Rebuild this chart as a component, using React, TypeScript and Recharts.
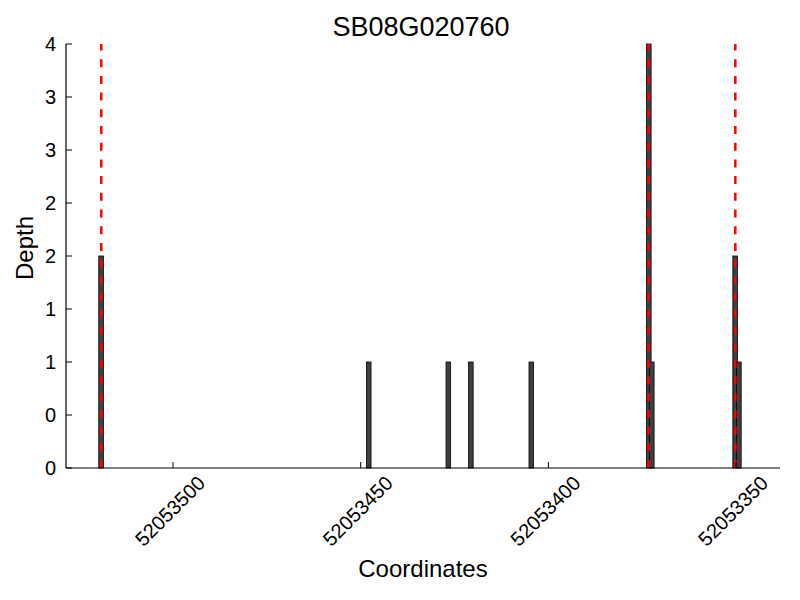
import {
  Bar,
  ComposedChart,
  Customized,
  Label,
  ReferenceLine,
  XAxis,
  YAxis,
} from "recharts";

// read-off positions (bar centres) and depths
const positions = [
  52053519.1, 52053447.8, 52053426.6, 52053420.6, 52053404.5, 52053373.2, 52053372.4, 52053350.2,
  52053349.2,
];
const depths = [2, 1, 1, 1, 1, 4, 1, 2, 1];
const boundaries = [52053519.1, 52053373.3, 52053350.2];

const xTicks = [52053500, 52053450, 52053400, 52053350];
const yTicks = [0, 0.5, 1, 1.5, 2, 2.5, 3, 3.5, 4];
const yTickLabels = ["0", "0", "1", "1", "2", "2", "3", "3", "4"];

const title = "SB08G020760";
const xTitle = "Coordinates";
const yTitle = "Depth";

const FONT = '"Liberation Sans", Arial, sans-serif';
const BAR_W = 4.6;

const data = positions.map((pos, i) => ({ pos, depth: depths[i] }));

function XTick(props: any) {
  const { x, y, payload } = props;
  const cx = x - 3;
  const cy = y + 43;
  return (
    <g>
      <line x1={x} y1={y} x2={x} y2={y - 6} stroke="#000" strokeWidth={1} />
      <text
        x={cx}
        y={cy}
        textAnchor="middle"
        dominantBaseline="central"
        fontSize={20}
        fontFamily={FONT}
        fill="#000"
        transform={`rotate(-45, ${cx}, ${cy})`}
      >
        {payload.value}
      </text>
    </g>
  );
}

function YTick(props: any) {
  const { x, y, payload } = props;
  const idx = yTicks.indexOf(payload.value);
  return (
    <g>
      <line x1={x} y1={y} x2={x + 6} y2={y} stroke="#000" strokeWidth={1} />
      <text
        x={x - 10}
        y={y}
        textAnchor="end"
        dominantBaseline="central"
        fontSize={20}
        fontFamily={FONT}
        fill="#000"
      >
        {idx >= 0 ? yTickLabels[idx] : payload.value}
      </text>
    </g>
  );
}

// fixed-width bar, centred on the position given by the axis scale
function DepthBar(props: any) {
  const { x, y, width, height } = props;
  if (!height) return null;
  const cx = x + width / 2;
  return (
    <rect
      x={cx - BAR_W / 2}
      y={y}
      width={BAR_W}
      height={height}
      fill="#404040"
      stroke="#000"
      strokeWidth={0.8}
    />
  );
}

export default function App() {
  return (
    <div style={{ position: "fixed", left: 0, top: 0, width: 800, height: 600, background: "#fff" }}>
      <ComposedChart
        width={800}
        height={600}
        data={data}
        margin={{ top: 44, right: 20, bottom: 0, left: 0 }}
      >
        <Customized
          component={() => (
            <text
              x={421}
              y={36}
              textAnchor="middle"
              fontSize={27}
              fontFamily={FONT}
              fill="#000"
            >
              {title}
            </text>
          )}
        />
        <XAxis
          dataKey="pos"
          type="number"
          reversed
          domain={[52053338.3, 52053528.5]}
          allowDataOverflow
          ticks={xTicks}
          interval={0}
          height={132}
          tickSize={0}
          tickMargin={0}
          tickLine={false}
          tick={<XTick />}
          axisLine={{ stroke: "#000", strokeWidth: 1.2 }}
        >
          <Label
            value={xTitle}
            position="insideBottom"
            offset={23}
            style={{ fontSize: 24, fontFamily: FONT, fill: "#000" }}
          />
        </XAxis>
        <YAxis
          type="number"
          domain={[0, 4]}
          ticks={yTicks}
          interval={0}
          width={66}
          tickSize={0}
          tickMargin={0}
          tickLine={false}
          tick={<YTick />}
          axisLine={{ stroke: "#000", strokeWidth: 1.2 }}
        >
          <Label
            content={() => (
              <text
                x={24}
                y={248}
                textAnchor="middle"
                dominantBaseline="central"
                fontSize={24}
                fontFamily={FONT}
                fill="#000"
                transform="rotate(-90, 24, 248)"
              >
                {yTitle}
              </text>
            )}
          />
        </YAxis>
        <Bar dataKey="depth" shape={<DepthBar />} isAnimationActive={false} />
        {boundaries.map((b) => (
          <ReferenceLine
            key={b}
            x={b}
            stroke="#ff0000"
            strokeWidth={2.5}
            strokeDasharray="8 8.7"
            ifOverflow="extendDomain"
          />
        ))}
      </ComposedChart>
    </div>
  );
}
